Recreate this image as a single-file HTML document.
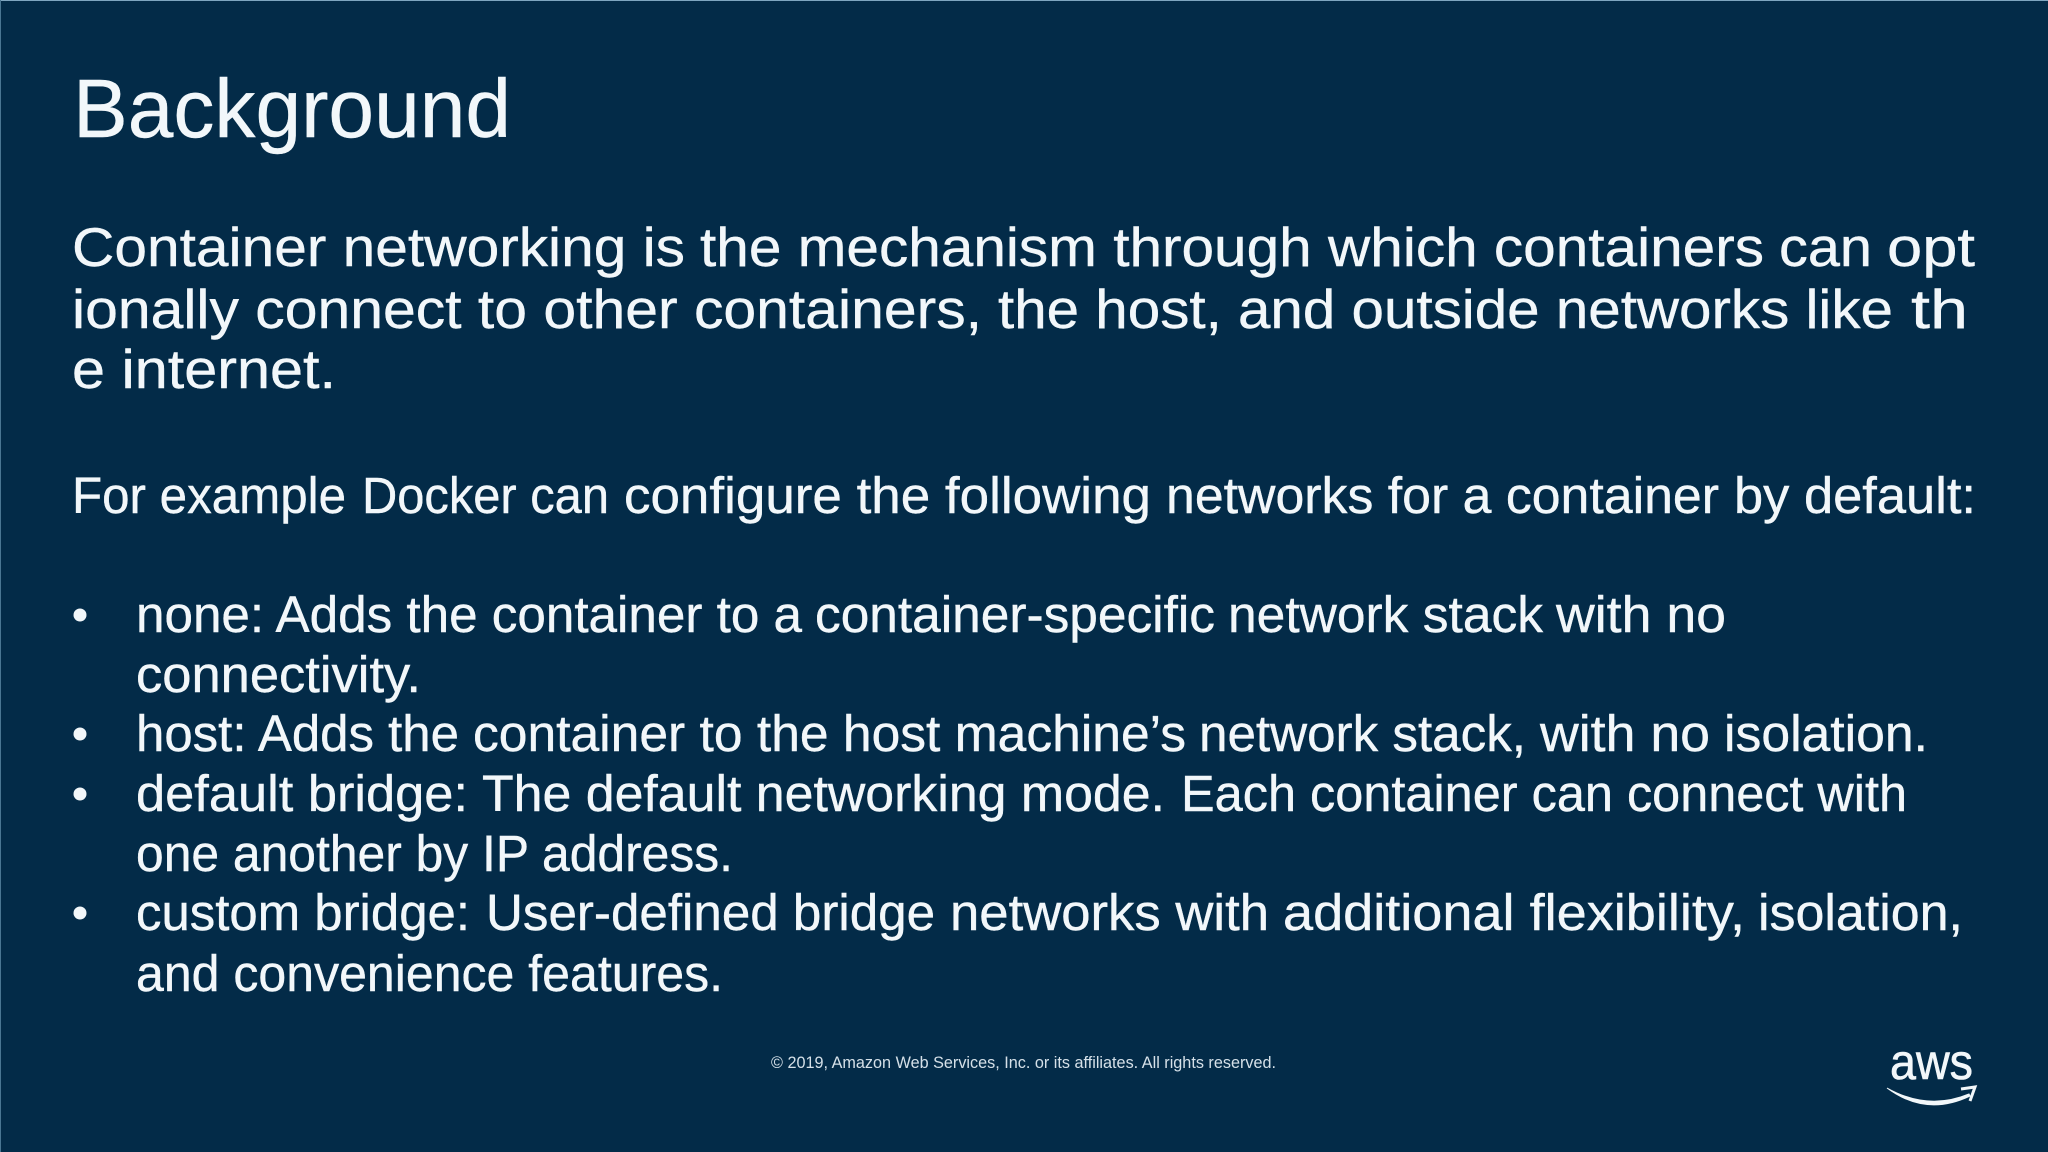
<!DOCTYPE html>
<html><head><meta charset="utf-8"><title>Background</title>
<style>
html,body{margin:0;padding:0;background:#032b48;width:2048px;height:1152px;overflow:hidden}
svg{display:block}
text{font-family:"Liberation Sans",sans-serif;fill:#f2f7fa;stroke:#f2f7fa;stroke-width:.4px}
.b{font-size:51px}
.m{font-size:55px}
</style></head><body>
<svg width="2048" height="1152" viewBox="0 0 2048 1152" xmlns="http://www.w3.org/2000/svg">
<rect width="2048" height="1152" fill="#032b48"/>
<rect width="2048" height="1" fill="#7fa6c0"/>
<rect width="1" height="1152" fill="#4a7692"/>
<text x="73" y="137" font-size="83" textLength="438" lengthAdjust="spacingAndGlyphs">Background</text>

<text class="m" x="72" y="266" textLength="613" lengthAdjust="spacingAndGlyphs">Container networking is</text>
<text class="m" x="700" y="266" textLength="1064" lengthAdjust="spacingAndGlyphs">the mechanism through which containers</text>
<text class="m" x="1779" y="266" textLength="93" lengthAdjust="spacingAndGlyphs">can</text>
<text class="m" x="1887" y="266" textLength="88" lengthAdjust="spacingAndGlyphs">opt</text>

<text class="m" x="72" y="328" textLength="910" lengthAdjust="spacingAndGlyphs">ionally connect to other containers,</text>
<text class="m" x="998" y="328" textLength="895" lengthAdjust="spacingAndGlyphs">the host, and outside networks like</text>
<text class="m" x="1911" y="328" textLength="57" lengthAdjust="spacingAndGlyphs">th</text>

<text class="m" x="72" y="388" textLength="264" lengthAdjust="spacingAndGlyphs">e internet.</text>

<text class="b" x="72" y="513" textLength="274" lengthAdjust="spacingAndGlyphs">For example</text>
<text class="b" x="362" y="513" textLength="247" lengthAdjust="spacingAndGlyphs">Docker can</text>
<text class="b" x="624" y="513" textLength="527" lengthAdjust="spacingAndGlyphs">configure the following</text>
<text class="b" x="1166" y="513" textLength="553" lengthAdjust="spacingAndGlyphs">networks for a container</text>
<text class="b" x="1734" y="513" textLength="242" lengthAdjust="spacingAndGlyphs">by default:</text>

<circle cx="80" cy="615" r="6.5" fill="#f2f7fa"/>
<text class="b" x="136" y="632" textLength="666" lengthAdjust="spacingAndGlyphs">none: Adds the container to a</text>
<text class="b" x="815" y="632" textLength="400" lengthAdjust="spacingAndGlyphs">container-specific</text>
<text class="b" x="1228" y="632" textLength="315" lengthAdjust="spacingAndGlyphs">network stack</text>
<text class="b" x="1556" y="632" textLength="170" lengthAdjust="spacingAndGlyphs">with no</text>
<text class="b" x="136" y="692" textLength="285" lengthAdjust="spacingAndGlyphs">connectivity.</text>

<circle cx="80" cy="734" r="6.5" fill="#f2f7fa"/>
<text class="b" x="136" y="751" textLength="323" lengthAdjust="spacingAndGlyphs">host: Adds the</text>
<text class="b" x="473" y="751" textLength="713" lengthAdjust="spacingAndGlyphs">container to the host machine’s</text>
<text class="b" x="1199" y="751" textLength="327" lengthAdjust="spacingAndGlyphs">network stack,</text>
<text class="b" x="1540" y="751" textLength="170" lengthAdjust="spacingAndGlyphs">with no</text>
<text class="b" x="1724" y="751" textLength="204" lengthAdjust="spacingAndGlyphs">isolation.</text>

<circle cx="80" cy="794" r="6.5" fill="#f2f7fa"/>
<text class="b" x="136" y="811" textLength="332" lengthAdjust="spacingAndGlyphs">default bridge:</text>
<text class="b" x="482" y="811" textLength="683" lengthAdjust="spacingAndGlyphs">The default networking mode.</text>
<text class="b" x="1181" y="811" textLength="432" lengthAdjust="spacingAndGlyphs">Each container can</text>
<text class="b" x="1627" y="811" textLength="280" lengthAdjust="spacingAndGlyphs">connect with</text>
<text class="b" x="136" y="871" textLength="597" lengthAdjust="spacingAndGlyphs">one another by IP address.</text>

<circle cx="80" cy="913" r="6.5" fill="#f2f7fa"/>
<text class="b" x="136" y="930" textLength="334" lengthAdjust="spacingAndGlyphs">custom bridge:</text>
<text class="b" x="486" y="930" textLength="449" lengthAdjust="spacingAndGlyphs">User-defined bridge</text>
<text class="b" x="950" y="930" textLength="319" lengthAdjust="spacingAndGlyphs">networks with</text>
<text class="b" x="1283" y="930" textLength="462" lengthAdjust="spacingAndGlyphs">additional flexibility,</text>
<text class="b" x="1758" y="930" textLength="205" lengthAdjust="spacingAndGlyphs">isolation,</text>
<text class="b" x="136" y="991" textLength="587" lengthAdjust="spacingAndGlyphs">and convenience features.</text>

<text x="771" y="1068" font-size="17" textLength="505" lengthAdjust="spacingAndGlyphs" style="fill:#d5e0e8;stroke:none">© 2019, Amazon Web Services, Inc. or its affiliates. All rights reserved.</text>
<text x="1890" y="1079" font-size="50" textLength="83" lengthAdjust="spacingAndGlyphs" style="stroke-width:.6px">aws</text>
<path d="M1887 1088 Q1928 1111 1969 1094 L1970 1096 Q1926 1117 1887 1088Z" fill="#f2f7fa" stroke="#f2f7fa" stroke-width="1"/>
<path d="M1961 1089 L1975 1087 L1970 1101" fill="none" stroke="#f2f7fa" stroke-width="3"/>
</svg>
</body></html>
